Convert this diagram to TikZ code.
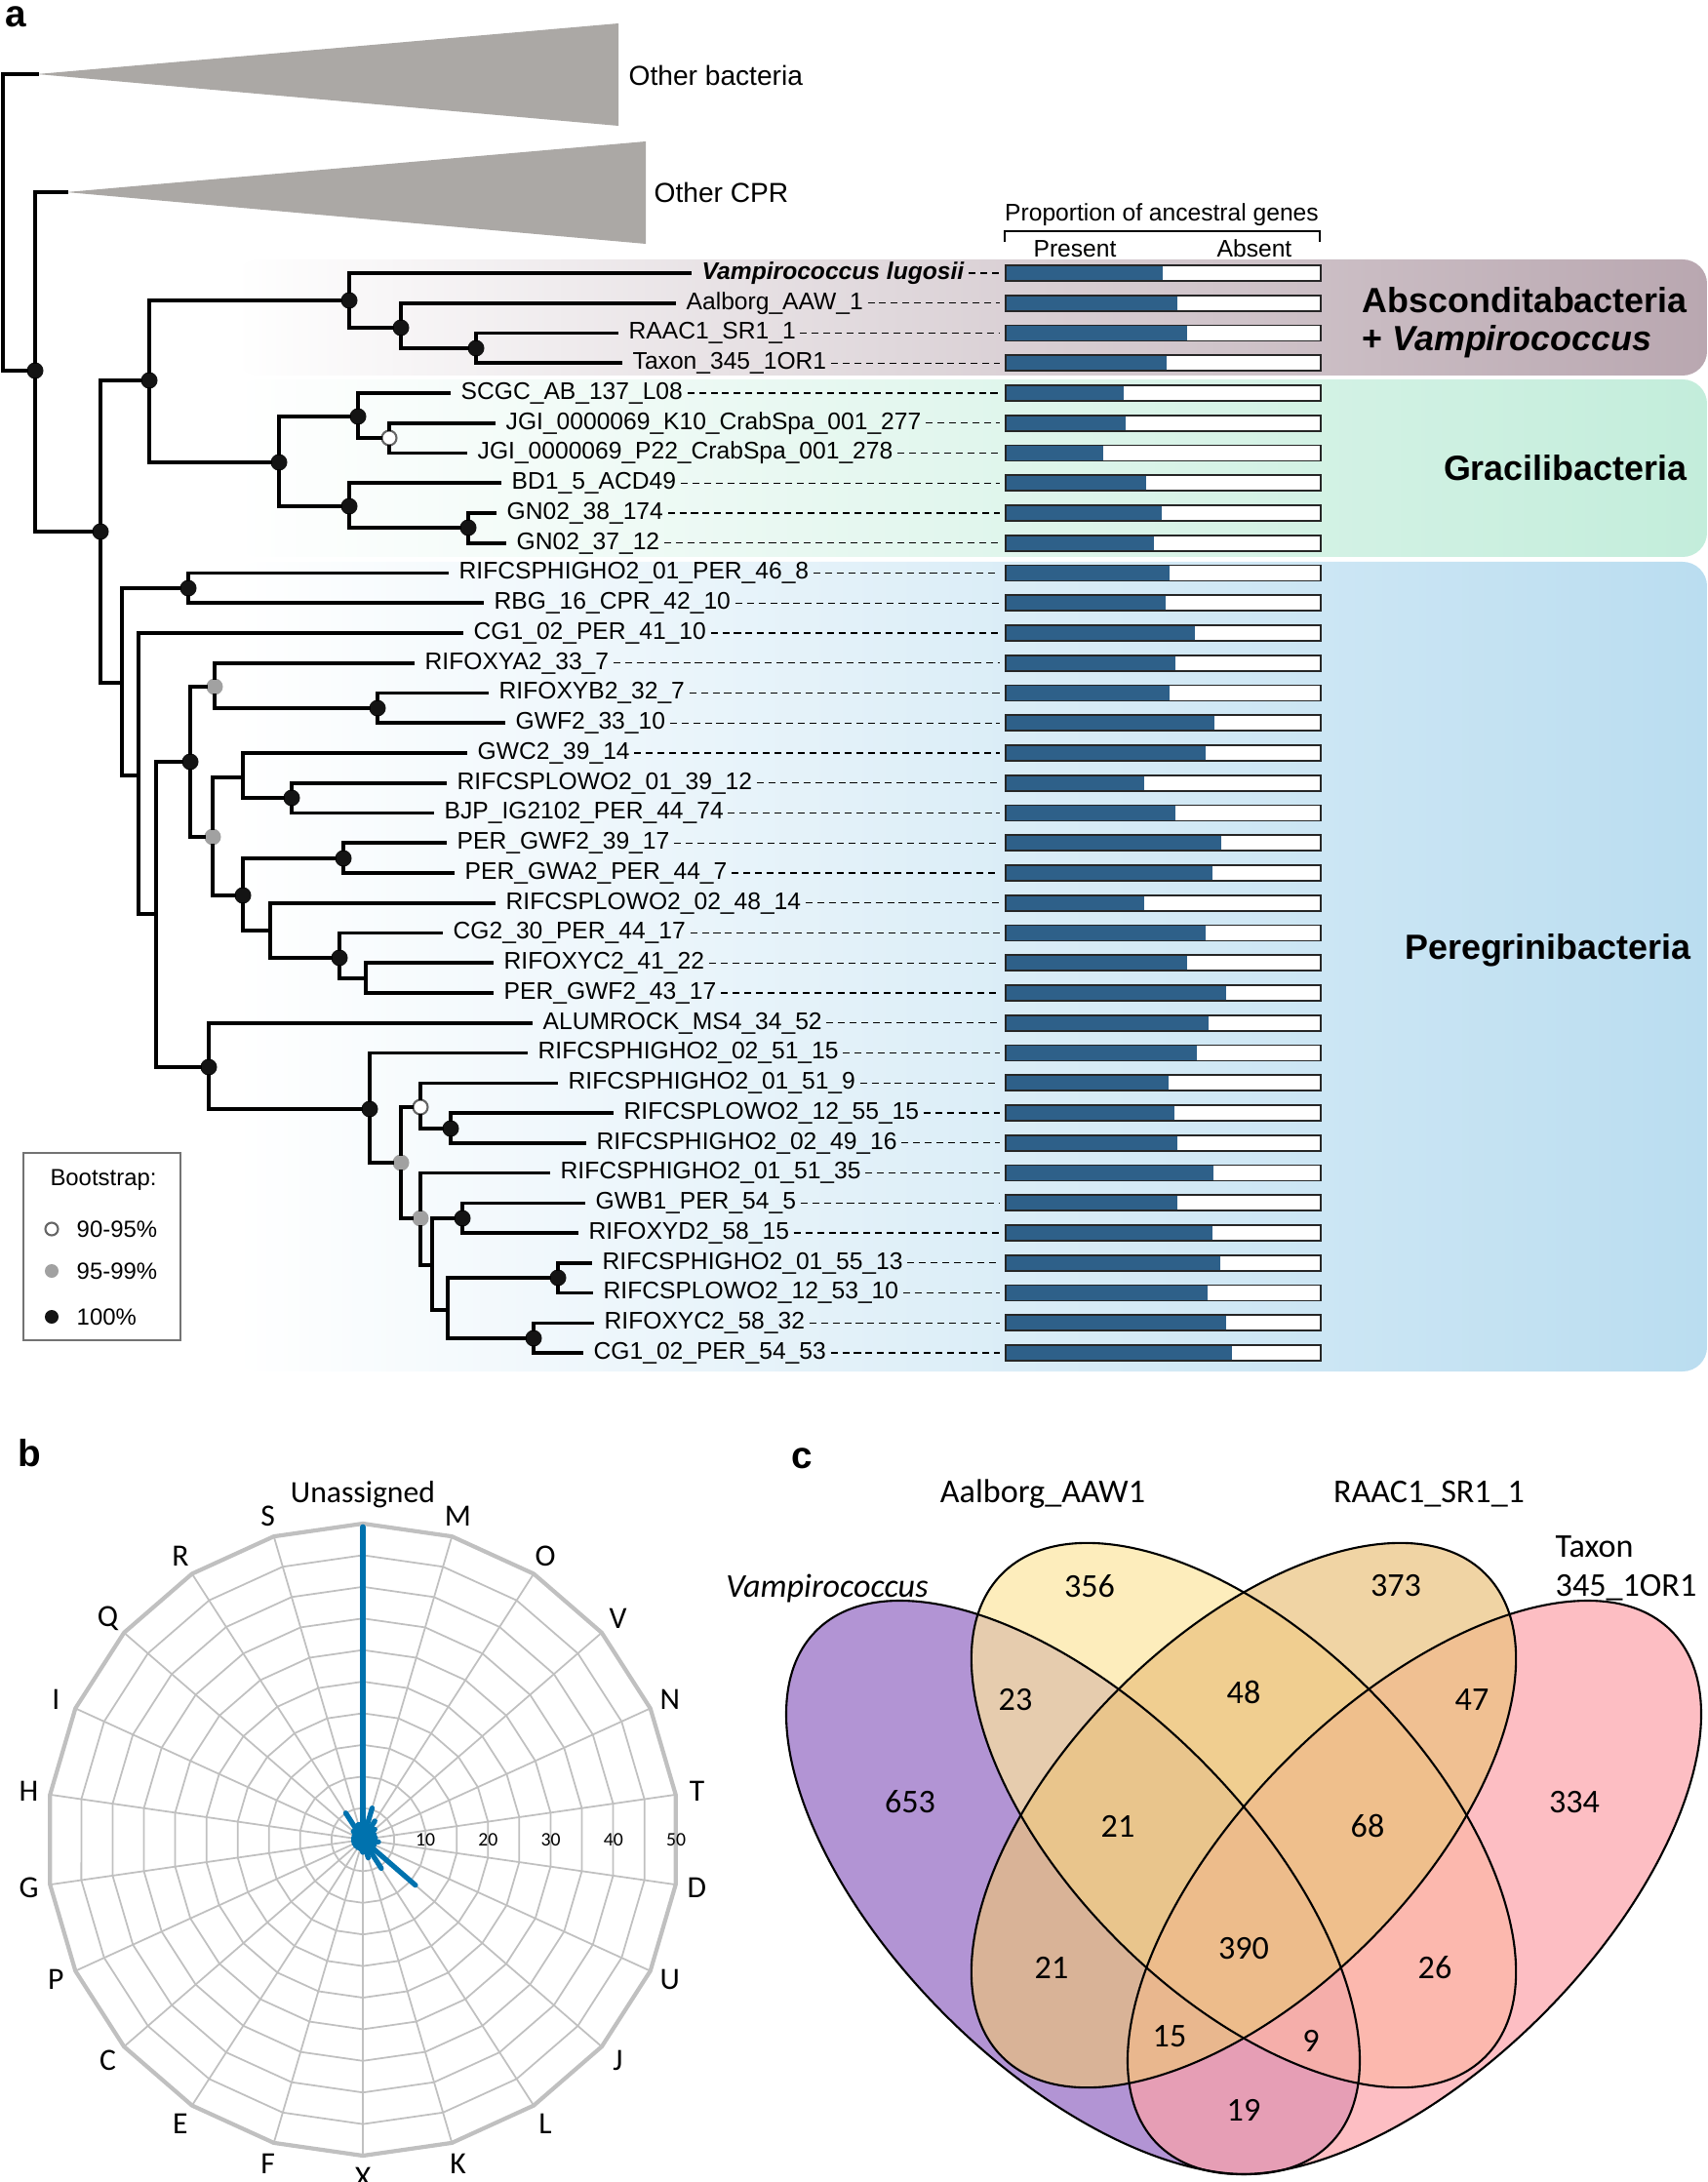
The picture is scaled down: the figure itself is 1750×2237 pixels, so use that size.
\documentclass[tikz,border=0pt]{standalone}
\usepackage{fontspec}
\setmainfont{Liberation Sans}
\newfontfamily\vennfont{Carlito}
\usetikzlibrary{positioning}
\definecolor{barblue}{RGB}{46,96,137}
\definecolor{abscol}{RGB}{185,167,176}
\definecolor{gracol}{RGB}{195,237,219}
\definecolor{percol}{RGB}{186,221,240}
\definecolor{cladegray}{RGB}{171,168,165}
\definecolor{gridgray}{RGB}{192,192,192}
\definecolor{radarblue}{RGB}{0,114,174}
\definecolor{vampcol}{RGB}{145,102,194}
\definecolor{aalbcol}{RGB}{252,229,159}
\definecolor{raaccol}{RGB}{234,194,126}
\definecolor{taxcol}{RGB}{252,162,169}
\tikzset{
  branch/.style={line width=1pt, line cap=rect},
  b100/.style={circle, fill=black!92, inner sep=0pt, minimum size=0.17cm},
  b95/.style={circle, fill=black!37, inner sep=0pt, minimum size=0.17cm},
  b90/.style={circle, fill=white, draw=black!60, line width=0.6pt, inner sep=0pt, minimum size=0.15cm},
  leaf/.style={anchor=west, inner sep=0pt, text height=5pt, text depth=1.4pt, font=\fontsize{7}{8}\selectfont},
  leader/.style={line width=0.4pt, dash pattern=on 2pt off 1.4pt},
  bar/.style={anchor=west, draw=black!85, line width=0.5pt, fill=white, minimum width=3.23cm, minimum height=0.16cm, inner sep=0pt},
  grpname/.style={font=\fontsize{10.2}{12}\selectfont\bfseries, inner sep=0pt},
  panel/.style={font=\fontsize{11}{13}\selectfont\bfseries, inner sep=0pt},
  small/.style={font=\fontsize{7}{8}\selectfont, inner sep=0pt},
  ring/.style={draw=gridgray, line width=0.5pt},
  cog/.style={font=\vennfont\fontsize{9}{10}\selectfont, inner sep=0pt},
  venn/.style={draw=black, line width=0.6pt},
  vnum/.style={font=\vennfont\fontsize{9.7}{11}\selectfont, inner sep=0pt},
}
\begin{document}
\begin{tikzpicture}[x=0.01cm, y=-0.01cm]
  \useasboundingbox (0,0) rectangle (1750,2237);
  % group backgrounds
  \shade[left color=white, middle color=abscol!60, right color=abscol, rounded corners=0.25cm] (240,266) rectangle (1750,385);
  \shade[left color=white, middle color=gracol!70, right color=gracol, rounded corners=0.25cm] (240,389) rectangle (1750,571);
  \shade[left color=white, middle color=percol!70, right color=percol, rounded corners=0.25cm] (240,576) rectangle (1750,1406);

  \node[panel] (pa) at (16,17) {a};

  % collapsed clades
  \coordinate (r0) at (3,228);
  \coordinate (ob) at (38,76);
  \coordinate (ocpr) at (68,197);
  \fill[cladegray] (ob) -- (634,24) -- (634,129) -- cycle;
  \fill[cladegray] (ocpr) -- (662,145) -- (662,250) -- cycle;
  \node[anchor=west, inner sep=0pt, font=\fontsize{8}{9}\selectfont] (obl) at (644,77) {Other bacteria};
  \node[anchor=west, inner sep=0pt, font=\fontsize{8}{9}\selectfont] (ocprl) at (670,197) {Other CPR};

  % header of the bars
  \node[small] (hdr) at (1191,220) {Proportion of ancestral genes};
  \draw[line width=0.5pt] (1030,248) -- (1030,237) -- (1353,237) -- (1353,248);
  \node[small] (pres) at (1102,255) {Present};
  \node[small] (absn) at (1286,255) {Absent};

  % bars
  \foreach \i/\p in {0/0.499, 1/0.545, 2/0.576, 3/0.510, 4/0.376, 5/0.381, 6/0.310, 7/0.446, 8/0.496, 9/0.471,
      10/0.521, 11/0.508, 12/0.601, 13/0.538, 14/0.521, 15/0.661, 16/0.634, 17/0.439, 18/0.538, 19/0.684,
      20/0.656, 21/0.439, 22/0.634, 23/0.576, 24/0.699, 25/0.643, 26/0.606, 27/0.517, 28/0.535, 29/0.545,
      30/0.659, 31/0.545, 32/0.656, 33/0.681, 34/0.641, 35/0.699, 36/0.719}
    \node[bar, path picture={\fill[barblue] (path picture bounding box.south west) rectangle ++(\p*3.23cm,0.16cm);}] (b\i) at (1030,{280+30.75*\i}) {};

  % leaves
  \foreach \i/\x/\t in {0/719/{\textbf{\textit{Vampirococcus lugosii}}}, 1/703/Aalborg\_AAW\_1, 2/644/RAAC1\_SR1\_1,
      3/648/Taxon\_345\_1OR1, 4/472/SCGC\_AB\_137\_L08, 5/518/JGI\_0000069\_K10\_CrabSpa\_001\_277,
      6/489/JGI\_0000069\_P22\_CrabSpa\_001\_278, 7/524/BD1\_5\_ACD49, 8/519/GN02\_38\_174, 9/529/GN02\_37\_12,
      10/470/RIFCSPHIGHO2\_01\_PER\_46\_8, 11/506/RBG\_16\_CPR\_42\_10, 12/485/CG1\_02\_PER\_41\_10,
      13/435/RIFOXYA2\_33\_7, 14/511/RIFOXYB2\_32\_7, 15/528/GWF2\_33\_10, 16/489/GWC2\_39\_14,
      17/468/RIFCSPLOWO2\_01\_39\_12, 18/455/BJP\_IG2102\_PER\_44\_74, 19/468/PER\_GWF2\_39\_17,
      20/476/PER\_GWA2\_PER\_44\_7, 21/518/RIFCSPLOWO2\_02\_48\_14, 22/464/CG2\_30\_PER\_44\_17,
      23/516/RIFOXYC2\_41\_22, 24/516/PER\_GWF2\_43\_17, 25/556/ALUMROCK\_MS4\_34\_52,
      26/551/RIFCSPHIGHO2\_02\_51\_15, 27/582/RIFCSPHIGHO2\_01\_51\_9, 28/639/RIFCSPLOWO2\_12\_55\_15,
      29/611/RIFCSPHIGHO2\_02\_49\_16, 30/574/RIFCSPHIGHO2\_01\_51\_35, 31/610/GWB1\_PER\_54\_5,
      32/603/RIFOXYD2\_58\_15, 33/617/RIFCSPHIGHO2\_01\_55\_13, 34/618/RIFCSPLOWO2\_12\_53\_10,
      35/619/RIFOXYC2\_58\_32, 36/608/CG1\_02\_PER\_54\_53}
    \node[leaf] (l\i) at (\x,{280+30.75*\i}) {\t};
  \foreach \i in {0,...,36}
    \draw[leader] ([xshift=0.04cm]l\i.east) -- ([xshift=-0.05cm]b\i.west);

  % internal nodes
  \node[b100] (nA) at (36,380) {};
  \node[b100] (nB) at (103,545) {};
  \node[b100] (nC) at (153,390) {};
  \node[b100] (nAbs) at (358,308) {};
  \node[b100] (n1) at (411,336) {};
  \node[b100] (n2) at (488,357) {};
  \node[b100] (nGra) at (286,474) {};
  \node[b100] (nG1) at (367,427) {};
  \node[b90] (nG3) at (399,449) {};
  \node[b100] (nG2) at (358,519) {};
  \node[b100] (nG4) at (480,541) {};
  \coordinate (nP) at (125,700);
  \node[b100] (nP1) at (193,603) {};
  \coordinate (nP2) at (142,795);
  \coordinate (nP3) at (160,937);
  \node[b100] (nP4) at (195,781) {};
  \node[b100] (nP5) at (214,1094) {};
  \node[b95] (nP6) at (220,704) {};
  \node[b95] (nP7) at (218,858) {};
  \node[b100] (nP8) at (387,726) {};
  \coordinate (nP9) at (249,797);
  \node[b100] (nP10) at (249,918) {};
  \node[b100] (nP11) at (299,818) {};
  \node[b100] (nP12) at (352,880) {};
  \coordinate (nP13) at (277,954);
  \node[b100] (nP14) at (348,982) {};
  \coordinate (nP15) at (375,1003);
  \node[b100] (nP16) at (379,1137) {};
  \node[b95] (nP17) at (411,1192) {};
  \node[b90] (nP18) at (431,1135) {};
  \node[b95] (nP19) at (431,1249) {};
  \node[b100] (nP20) at (462,1157) {};
  \coordinate (nP21) at (443,1297);
  \node[b100] (nP22) at (474,1249) {};
  \coordinate (nP23) at (459,1343);
  \node[b100] (nP24) at (572,1310) {};
  \node[b100] (nP25) at (547,1372) {};

  % branches
  \foreach \s/\t in {r0/ob, r0/nA, nA/ocpr, nA/nB, nB/nC, nB/nP, nC/nAbs, nC/nGra, nAbs/n1, n1/n2,
      nGra/nG1, nGra/nG2, nG1/nG3, nG2/nG4, nP/nP1, nP/nP2, nP2/nP3, nP3/nP4, nP3/nP5, nP4/nP6,
      nP4/nP7, nP6/nP8, nP7/nP9, nP7/nP10, nP9/nP11, nP10/nP12, nP10/nP13, nP13/nP14, nP14/nP15,
      nP5/nP16, nP16/nP17, nP17/nP18, nP17/nP19, nP18/nP20, nP19/nP21, nP21/nP22, nP21/nP23,
      nP23/nP24, nP23/nP25}
    \draw[branch] (\s) |- (\t);
  \foreach \s/\i in {nAbs/0, n1/1, n2/2, n2/3, nG1/4, nG3/5, nG3/6, nG2/7, nG4/8, nG4/9, nP1/10,
      nP1/11, nP2/12, nP6/13, nP8/14, nP8/15, nP9/16, nP11/17, nP11/18, nP12/19, nP12/20, nP13/21,
      nP14/22, nP15/23, nP15/24, nP5/25, nP16/26, nP18/27, nP20/28, nP20/29, nP19/30, nP22/31,
      nP22/32, nP24/33, nP24/34, nP25/35, nP25/36}
    \draw[branch] (\s) |- ([xshift=-0.12cm]l\i.west);

  % group names
  \node[grpname, anchor=west] (gabs) at (1396,308) {Absconditabacteria};
  \node[grpname, anchor=west] (gvamp) at (1396,350) {+ \textit{Vampirococcus}};
  \node[grpname, anchor=east] (ggra) at (1730,480) {Gracilibacteria};
  \node[grpname, anchor=east] (gper) at (1734,974) {Peregrinibacteria};

  % bootstrap legend
  \draw[black!55, line width=0.5pt] (24,1182) rectangle (185,1374);
  \node[font=\fontsize{6.8}{8}\selectfont, inner sep=0pt] (lgt) at (106,1210) {Bootstrap:};
  \node[b90, minimum size=0.13cm] (lg1) at (53,1260) {};
  \node[b95, minimum size=0.14cm] (lg2) at (53,1303) {};
  \node[b100, minimum size=0.14cm] (lg3) at (53,1350) {};
  \node[anchor=west, inner sep=0pt, font=\fontsize{6.8}{8}\selectfont] (lgt1) at (78,1260) {90-95\%};
  \node[anchor=west, inner sep=0pt, font=\fontsize{6.8}{8}\selectfont] (lgt2) at (78,1303) {95-99\%};
  \node[anchor=west, inner sep=0pt, font=\fontsize{6.8}{8}\selectfont] (lgt3) at (78,1350) {100\%};

  % b: radar of COG categories
  \node[panel] (pb) at (30,1490) {b};
  \begin{scope}[shift={(372,1886)}]
    \coordinate (cb) at (0,0);
    \foreach \k in {0,...,21}
      \draw[ring] (cb) -- ({\k*360/22-90}:324);
    \foreach \j in {1,...,9}
      \draw[ring] (-90:{32.4*\j}) \foreach \k in {1,...,21}{ -- ({\k*360/22-90}:{32.4*\j}) } -- cycle;
    \draw[ring, line width=1.2pt] (-90:324) \foreach \k in {1,...,21}{ -- ({\k*360/22-90}:324) } -- cycle;
    \foreach \n in {1,...,5}
      \node[font=\vennfont\fontsize{5.6}{6}\selectfont, inner sep=0pt] (t\n) at ({64.2*\n},0) {\n0};
    \foreach \k/\v in {0/49.5, 1/5.2, 2/3.5, 3/2.5, 4/2, 5/2, 6/2.5, 7/2, 8/11, 9/5.4, 10/3, 11/2,
        12/1.5, 13/1.5, 14/1.5, 15/1.5, 16/1.5, 17/1.5, 18/1.5, 19/2, 20/5, 21/2.5}
      \draw[radarblue, line width=1.5pt, line cap=round] (cb) -- ({\k*360/22-90}:{6.48*\v});
    \node[cog] (c0) at (-90:354) {Unassigned};
    \foreach \k/\l in {1/M, 2/O, 3/V, 4/N, 5/T, 6/D, 7/U, 8/J, 9/L, 10/K, 11/X, 12/F, 13/E, 14/C,
        15/P, 16/G, 17/H, 18/I, 19/Q, 20/R, 21/S}
      \node[cog] (c\k) at ({\k*360/22-90}:346) {\l};
  \end{scope}

  % c: Venn diagram
  \node[panel] (pc) at (822,1495) {c};
  \begin{scope}[fill opacity=0.7]
    \fill[vampcol] (1100,1935) ellipse [x radius=3.72cm, y radius=1.85cm, rotate=-45];
    \fill[aalbcol] (1275,1861) ellipse [x radius=3.5cm, y radius=1.82cm, rotate=-45];
    \fill[taxcol] (1450,1935) ellipse [x radius=3.72cm, y radius=1.85cm, rotate=45];
    \fill[raaccol] (1275,1861) ellipse [x radius=3.5cm, y radius=1.82cm, rotate=45];
  \end{scope}
  \draw[venn] (1100,1935) ellipse [x radius=3.72cm, y radius=1.85cm, rotate=-45];
  \draw[venn] (1275,1861) ellipse [x radius=3.5cm, y radius=1.82cm, rotate=-45];
  \draw[venn] (1275,1861) ellipse [x radius=3.5cm, y radius=1.82cm, rotate=45];
  \draw[venn] (1450,1935) ellipse [x radius=3.72cm, y radius=1.85cm, rotate=45];
  \node[vnum] (vA) at (848,1628) {\textit{Vampirococcus}};
  \node[vnum] (vB) at (1069,1532) {Aalborg\_AAW1};
  \node[vnum] (vC) at (1465,1532) {RAAC1\_SR1\_1};
  \node[vnum, anchor=west] (vD1) at (1594,1586) {Taxon};
  \node[vnum, anchor=west] (vD2) at (1594,1628) {345\_1OR1};
  \foreach \i/\n/\x/\y in {1/356/1117/1626, 2/373/1431/1626, 3/653/933/1847, 4/23/1041/1743,
      5/48/1275/1735, 6/47/1509/1743, 7/21/1146/1872, 8/68/1402/1872, 9/334/1614/1848,
      10/390/1275/1998, 11/21/1078/2017, 12/26/1471/2017, 13/15/1199/2088, 14/9/1344/2092,
      15/19/1275/2163}
    \node[vnum] (v\i) at (\x,\y) {\n};
\end{tikzpicture}
\end{document}
